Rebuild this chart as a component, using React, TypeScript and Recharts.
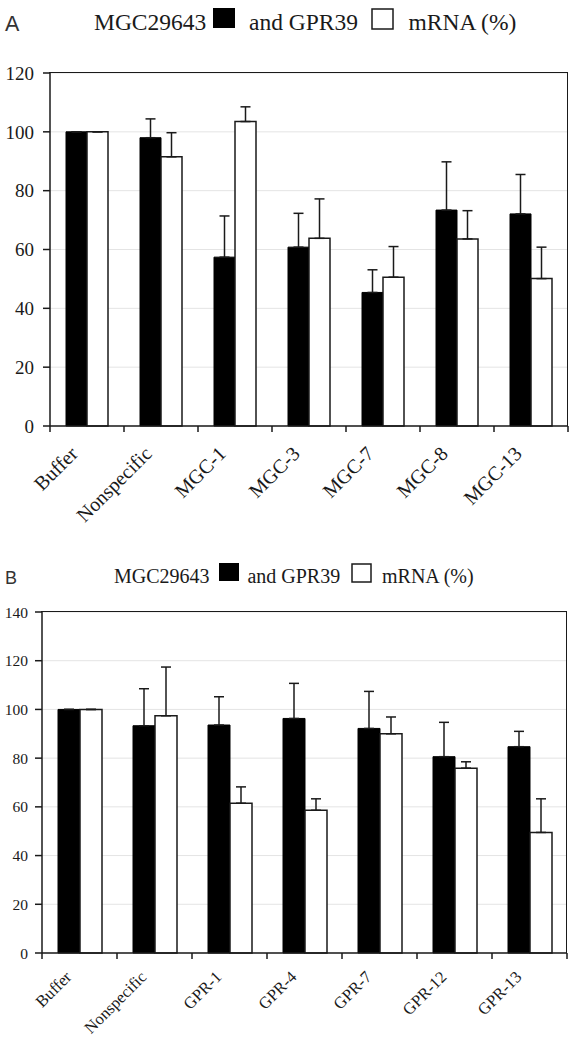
import React from "react";
import { Bar, BarChart, CartesianGrid, ErrorBar, XAxis, YAxis } from "recharts";

// panel A: siRNA against MGC29643
const categoriesA = ["Buffer", "Nonspecific", "MGC-1", "MGC-3", "MGC-7", "MGC-8", "MGC-13"];
const mgcA = [100, 98, 57.4, 60.8, 45.4, 73.4, 72.1];
const mgcErrA = [0, 6.4, 14, 11.5, 7.7, 16.4, 13.4];
const gprA = [100, 91.5, 103.5, 63.8, 50.6, 63.6, 50.1];
const gprErrA = [0, 8.2, 5, 13.4, 10.4, 9.6, 10.7];
const ticksA = [0, 20, 40, 60, 80, 100, 120];

// panel B: siRNA against GPR39
const categoriesB = ["Buffer", "Nonspecific", "GPR-1", "GPR-4", "GPR-7", "GPR-12", "GPR-13"];
const mgcB = [100, 93.3, 93.6, 96.3, 92.2, 80.6, 84.7];
const mgcErrB = [0, 15.2, 11.6, 14.4, 15.2, 14.1, 6.3];
const gprB = [100, 97.4, 61.5, 58.6, 90, 75.9, 49.5];
const gprErrB = [0, 20, 6.7, 4.7, 6.9, 2.6, 13.8];
const ticksB = [0, 20, 40, 60, 80, 100, 120, 140];

const SERIF = "'Liberation Serif', 'Times New Roman', serif";
const SANS = "'Liberation Sans', Arial, sans-serif";
const INK = "#1a1a1a";
const W = 573;

function buildRows(cats: string[], mgc: number[], mgcErr: number[], gpr: number[], gprErr: number[]) {
  return cats.map((name, i) => ({
    name,
    mgc: mgc[i],
    mgcErr: [0, mgcErr[i]],
    gpr: gpr[i],
    gprErr: [0, gprErr[i]],
  }));
}

// x tick: tick marks on category boundaries, labels rotated 45deg
function makeTick(cats: string[], band: number, fontSize: number, dx: number, dy: number) {
  return (props: any) => {
    const { x, y, payload } = props;
    const tx = x + dx;
    const ty = y + dy;
    const last = payload.value === cats[cats.length - 1];
    const l = x - band / 2;
    const r = x + band / 2;
    return (
      <g>
        <path d={`M${l},${y}v6`} stroke={INK} strokeWidth={1.5} fill="none" />
        {last ? <path d={`M${r},${y}v6`} stroke={INK} strokeWidth={1.5} fill="none" /> : null}
        <text
          x={tx}
          y={ty}
          textAnchor="end"
          transform={`rotate(-45, ${tx}, ${ty})`}
          style={{ fontFamily: SERIF, fontSize }}
          fill={INK}
        >
          {payload.value}
        </text>
      </g>
    );
  };
}

type PanelProps = {
  cats: string[];
  rows: any[];
  ticks: number[];
  height: number;
  left: number;
  right: number;
  top: number;
  bottom: number;
  barSize: number;
  yFont: number;
  xFont: number;
  yMargin: number;
  labelDx: number;
  labelDy: number;
};

function Panel({ cats, rows, ticks, height, left, right, top, bottom, barSize, yFont, xFont, yMargin, labelDx, labelDy }: PanelProps) {
  const band = (W - left - right) / cats.length;
  const max = ticks[ticks.length - 1];
  const axis = { stroke: INK, strokeWidth: 1.5 };
  return (
    <div style={{ position: "relative", width: W, height }}>
      <BarChart
        width={W}
        height={height}
        data={rows}
        margin={{ top, right, left: 0, bottom: 0 }}
        barGap={0}
        style={{ fontFamily: SERIF }}
      >
        <CartesianGrid vertical={false} stroke="#e4e4e4" />
        <XAxis
          dataKey="name"
          height={bottom}
          interval={0}
          tickSize={0}
          tickMargin={0}
          tickLine={false}
          axisLine={axis}
          tick={makeTick(cats, band, xFont, labelDx, labelDy)}
        />
        <YAxis
          width={left}
          domain={[0, max]}
          ticks={ticks}
          interval={0}
          tickSize={7}
          tickMargin={yMargin}
          tickLine={axis}
          axisLine={axis}
          tick={{ fill: INK, fontSize: yFont, style: { fontFamily: SERIF } }}
        />
        <Bar dataKey="mgc" fill="#000" stroke="#000" strokeWidth={1} barSize={barSize} isAnimationActive={false}>
          <ErrorBar dataKey="mgcErr" direction="y" width={5} stroke={INK} strokeWidth={1.5} />
        </Bar>
        <Bar dataKey="gpr" fill="#fff" stroke={INK} strokeWidth={1.5} barSize={barSize} isAnimationActive={false}>
          <ErrorBar dataKey="gprErr" direction="y" width={5} stroke={INK} strokeWidth={1.5} />
        </Bar>
      </BarChart>
      {/* plot frame: top and right edges */}
      <div
        style={{
          position: "absolute",
          left: left - 1,
          top: top - 1,
          width: W - left - right,
          height: height - top - bottom,
          borderTop: `1.5px solid ${INK}`,
          borderRight: `1.5px solid ${INK}`,
          pointerEvents: "none",
        }}
      />
    </div>
  );
}

function Title({ letter, y, size, x0, sq, xs }: { letter: string; y: number; size: number; x0: number; sq: number; xs: number[] }) {
  const serif = { fontFamily: SERIF, fontSize: size };
  return (
    <svg width={W} height={y + 12} style={{ position: "absolute", left: 0, top: 0 }}>
      <text x={5} y={y + 1} style={{ fontFamily: SANS, fontSize: size - 2 }} fill="#333">
        {letter}
      </text>
      <text x={x0} y={y} style={serif} fill={INK}>MGC29643</text>
      <rect x={xs[0]} y={y - sq - 2} width={sq + 2} height={sq} fill="#000" />
      <text x={xs[1]} y={y} style={serif} fill={INK}>and GPR39</text>
      <rect x={xs[2]} y={y - sq - 1} width={sq + 1} height={sq} fill="#fff" stroke={INK} strokeWidth={1.5} />
      <text x={xs[3]} y={y} style={serif} fill={INK}>mRNA (%)</text>
    </svg>
  );
}

export default function App() {
  const rowsA = buildRows(categoriesA, mgcA, mgcErrA, gprA, gprErrA);
  const rowsB = buildRows(categoriesB, mgcB, mgcErrB, gprB, gprErrB);
  return (
    <div
      style={{ position: "absolute", left: 0, top: 0, width: W, height: 1041, background: "#fff", fontFamily: SERIF }}
    >
      <div style={{ position: "absolute", left: 0, top: 0, width: W, height: 530 }}>
        <Panel
          cats={categoriesA}
          rows={rowsA}
          ticks={ticksA}
          height={530}
          left={50}
          right={5}
          top={73}
          bottom={104}
          barSize={21}
          yFont={19}
          xFont={20}
          yMargin={9}
          labelDx={-8}
          labelDy={29}
        />
        <Title letter="A" y={30} size={23.5} x0={94} sq={20} xs={[213, 249, 372, 408.6]} />
      </div>
      <div style={{ position: "absolute", left: 0, top: 530, width: W, height: 511 }}>
        <Panel
          cats={categoriesB}
          rows={rowsB}
          ticks={ticksB}
          height={511}
          left={42}
          right={6}
          top={82}
          bottom={88}
          barSize={22}
          yFont={15.5}
          xFont={16.5}
          yMargin={7}
          labelDx={-7}
          labelDy={25}
        />
        <Title letter="B" y={53} size={20} x0={114} sq={18} xs={[219, 247.4, 352, 382]} />
      </div>
    </div>
  );
}
